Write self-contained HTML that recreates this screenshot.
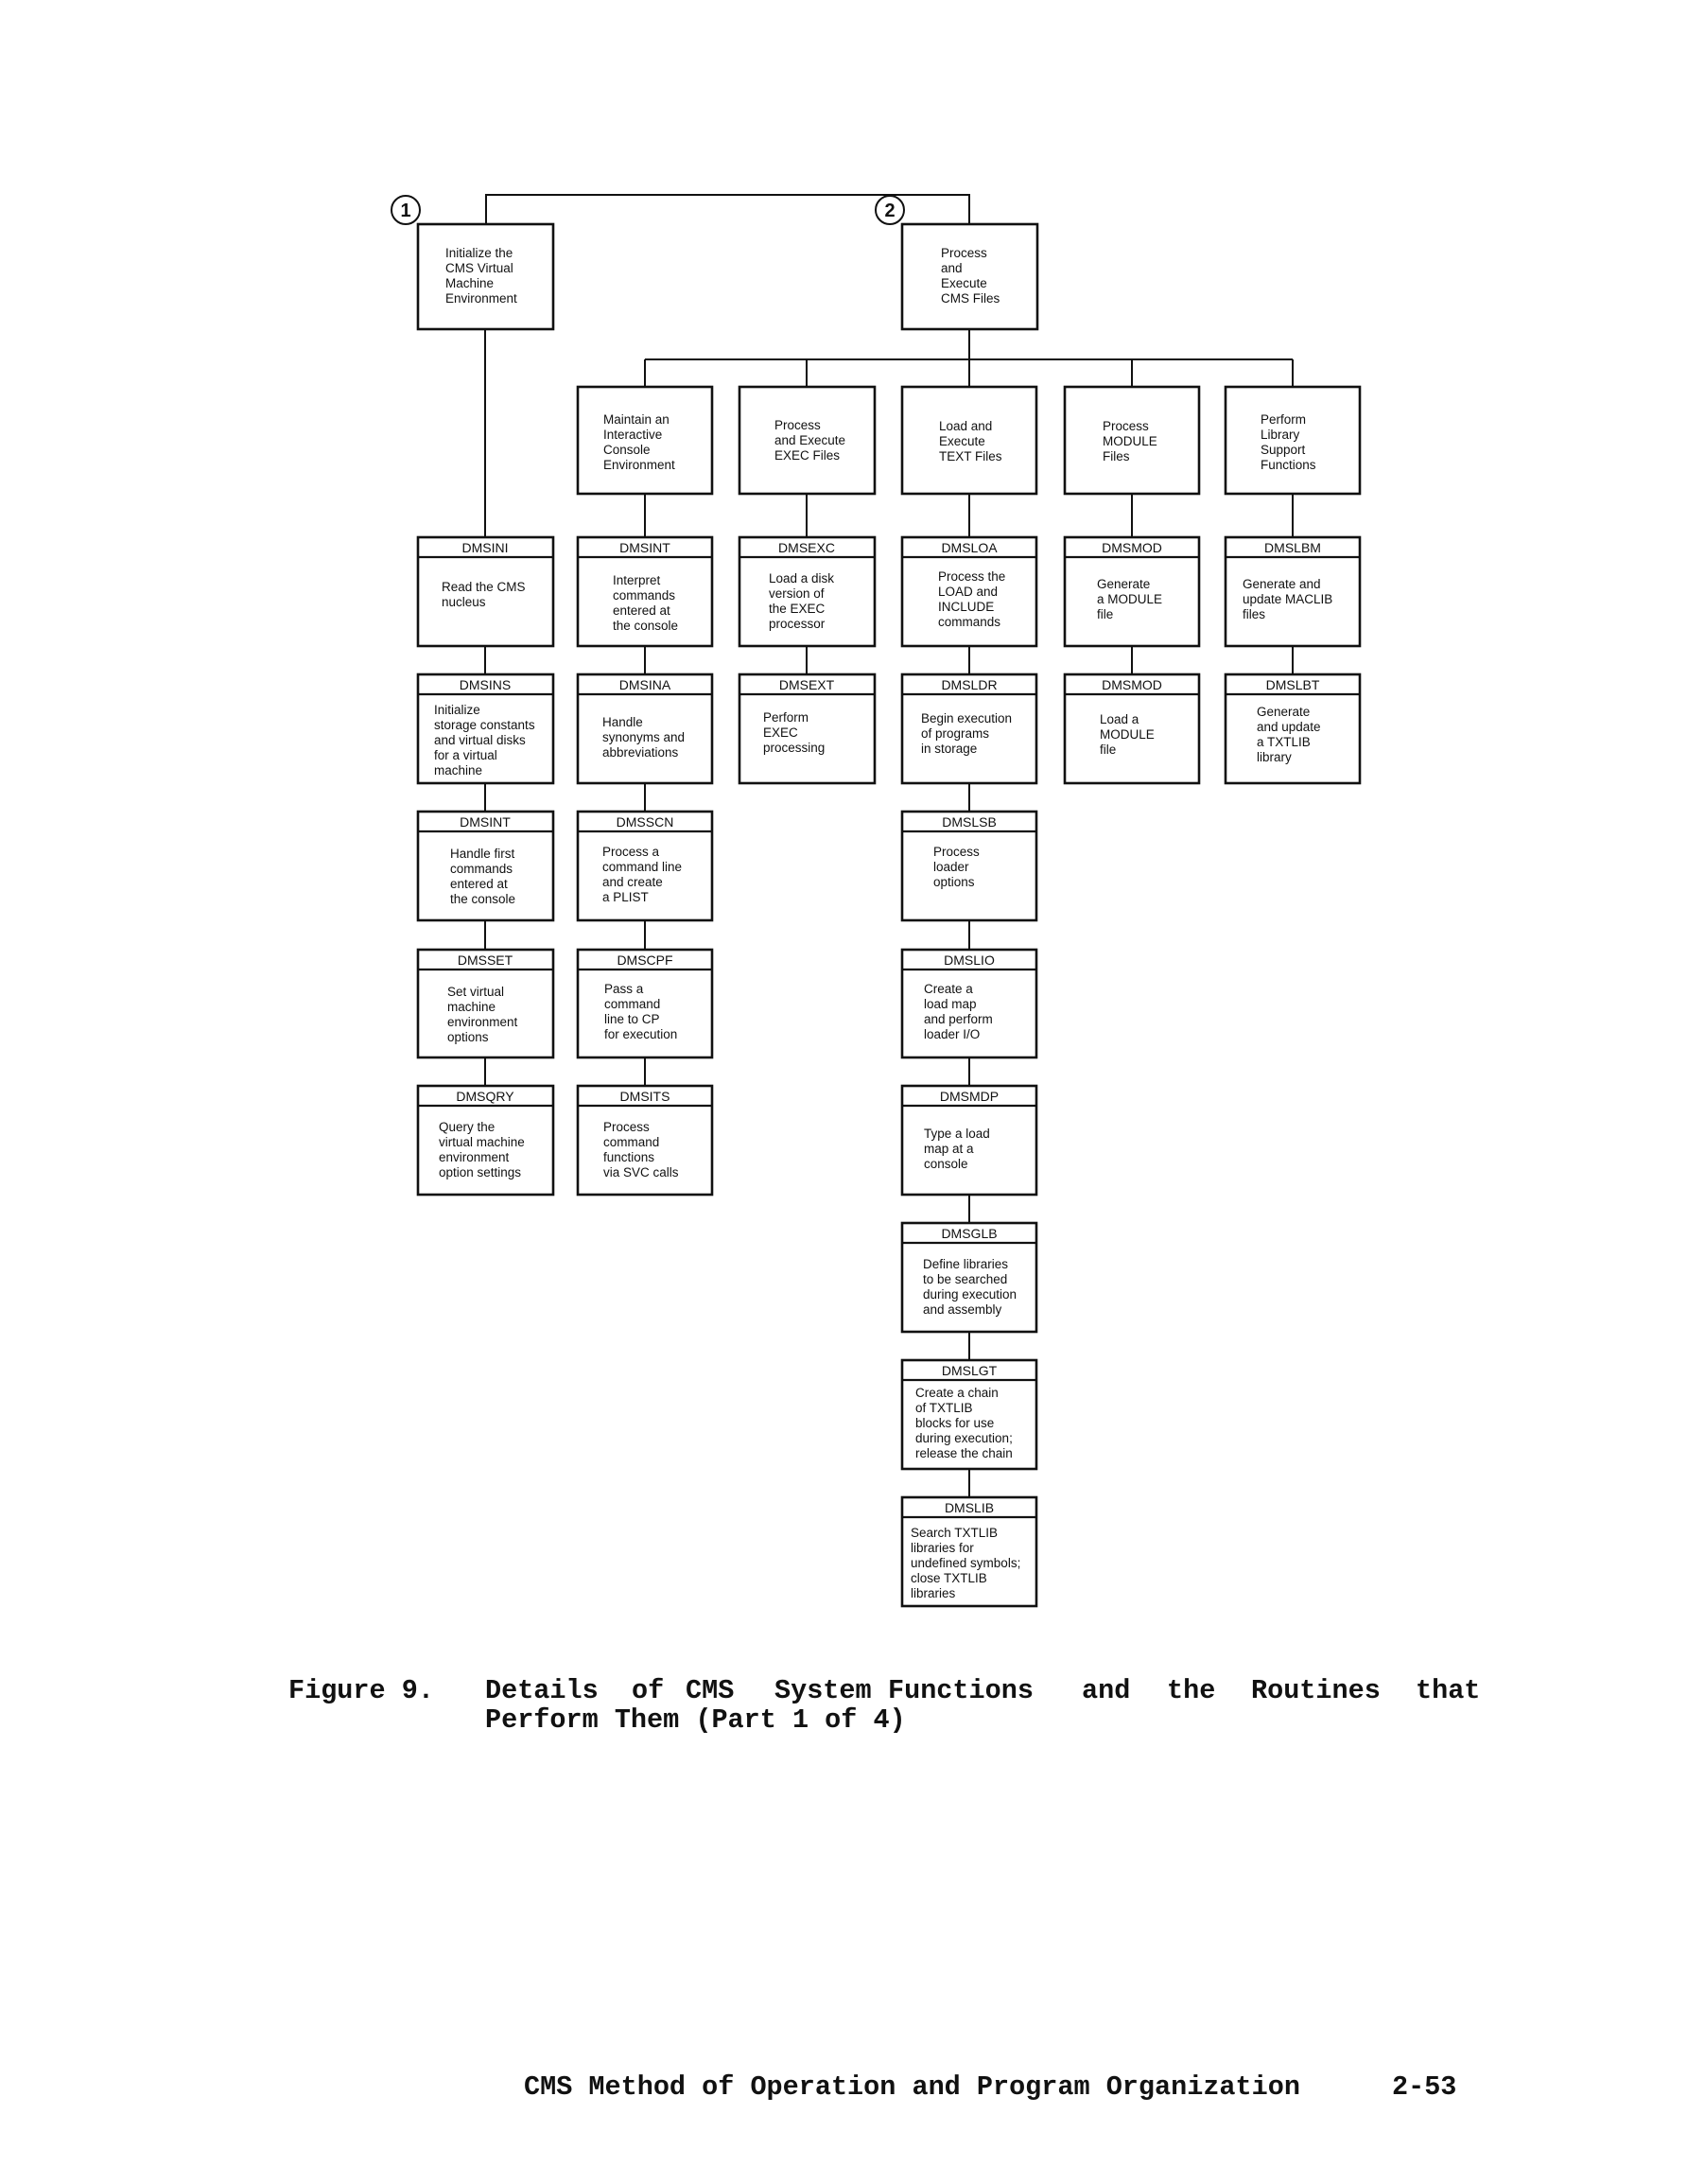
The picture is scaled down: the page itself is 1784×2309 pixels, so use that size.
<!DOCTYPE html>
<html><head><meta charset="utf-8"><style>
html,body{margin:0;padding:0;background:#fff;}
svg{display:block;}
.t{font-family:"Liberation Sans",sans-serif;font-size:13.5px;fill:#111;}
.h{font-family:"Liberation Sans",sans-serif;font-size:14px;fill:#111;text-anchor:middle;}
.m{font-family:"Liberation Mono",monospace;font-weight:bold;font-size:28.5px;fill:#111;}
</style></head><body>
<svg width="1784" height="2309" viewBox="0 0 1784 2309" xmlns="http://www.w3.org/2000/svg">
<g stroke="#111" fill="none" stroke-width="2">
<polyline points="514,237 514,206 1025,206 1025,237"/>
<line x1="513" y1="348" x2="513" y2="568"/>
<line x1="1025" y1="348" x2="1025" y2="409"/>
<line x1="682" y1="380" x2="1367" y2="380"/>
<line x1="682" y1="380" x2="682" y2="409"/>
<line x1="853" y1="380" x2="853" y2="409"/>
<line x1="1197" y1="380" x2="1197" y2="409"/>
<line x1="1367" y1="380" x2="1367" y2="409"/>
<line x1="682" y1="522" x2="682" y2="568"/>
<line x1="853" y1="522" x2="853" y2="568"/>
<line x1="1025" y1="522" x2="1025" y2="568"/>
<line x1="1197" y1="522" x2="1197" y2="568"/>
<line x1="1367" y1="522" x2="1367" y2="568"/>
<line x1="513" y1="683" x2="513" y2="1148"/>
<line x1="682" y1="683" x2="682" y2="1148"/>
<line x1="853" y1="683" x2="853" y2="713"/>
<line x1="1025" y1="683" x2="1025" y2="1583"/>
<line x1="1197" y1="683" x2="1197" y2="713"/>
<line x1="1367" y1="683" x2="1367" y2="713"/>
<circle cx="429" cy="222" r="15"/>
<circle cx="941" cy="222" r="15"/>
</g>
<g fill="#fff" stroke="#111" stroke-width="2.6">
<rect x="442" y="237" width="143" height="111"/>
<rect x="954" y="237" width="143" height="111"/>
<rect x="611" y="409" width="142" height="113"/>
<rect x="782" y="409" width="143" height="113"/>
<rect x="954" y="409" width="142" height="113"/>
<rect x="1126" y="409" width="142" height="113"/>
<rect x="1296" y="409" width="142" height="113"/>
</g>
<text x="429" y="229" font-family="Liberation Sans" font-weight="bold" font-size="20" text-anchor="middle" fill="#111">1</text>
<text x="941" y="229" font-family="Liberation Sans" font-weight="bold" font-size="20" text-anchor="middle" fill="#111">2</text>
<g class="t">
<text x="471" y="272">Initialize the</text><text x="471" y="288">CMS Virtual</text><text x="471" y="304">Machine</text><text x="471" y="320">Environment</text>
<text x="995" y="272">Process</text><text x="995" y="288">and</text><text x="995" y="304">Execute</text><text x="995" y="320">CMS Files</text>
<text x="638" y="448">Maintain an</text><text x="638" y="464">Interactive</text><text x="638" y="480">Console</text><text x="638" y="496">Environment</text>
<text x="819" y="454">Process</text><text x="819" y="470">and Execute</text><text x="819" y="486">EXEC Files</text>
<text x="993" y="455">Load and</text><text x="993" y="471">Execute</text><text x="993" y="487">TEXT Files</text>
<text x="1166" y="455">Process</text><text x="1166" y="471">MODULE</text><text x="1166" y="487">Files</text>
<text x="1333" y="448">Perform</text><text x="1333" y="464">Library</text><text x="1333" y="480">Support</text><text x="1333" y="496">Functions</text>
</g>
<text class="m" x="305" y="1795">Figure 9.</text>
<text class="m" x="513" y="1795">Details</text>
<text class="m" x="668" y="1795">of</text>
<text class="m" x="725" y="1795">CMS</text>
<text class="m" x="819" y="1795">System</text>
<text class="m" x="939" y="1795">Functions</text>
<text class="m" x="1144" y="1795">and</text>
<text class="m" x="1234" y="1795">the</text>
<text class="m" x="1323" y="1795">Routines</text>
<text class="m" x="1497" y="1795">that</text>
<text class="m" x="513" y="1826">Perform Them (Part 1 of 4)</text>
<text class="m" x="554" y="2214">CMS Method of Operation and Program Organization</text>
<text class="m" x="1472" y="2214">2-53</text>
<g>
<g stroke="#111" stroke-width="2.6" fill="#fff">
<rect x="442" y="568" width="143" height="115"/><rect x="611" y="568" width="142" height="115"/><rect x="782" y="568" width="143" height="115"/><rect x="954" y="568" width="142" height="115"/><rect x="1126" y="568" width="142" height="115"/><rect x="1296" y="568" width="142" height="115"/>
<rect x="442" y="713" width="143" height="115"/><rect x="611" y="713" width="142" height="115"/><rect x="782" y="713" width="143" height="115"/><rect x="954" y="713" width="142" height="115"/><rect x="1126" y="713" width="142" height="115"/><rect x="1296" y="713" width="142" height="115"/>
<rect x="442" y="858" width="143" height="115"/><rect x="611" y="858" width="142" height="115"/><rect x="954" y="858" width="142" height="115"/>
<rect x="442" y="1004" width="143" height="114"/><rect x="611" y="1004" width="142" height="114"/><rect x="954" y="1004" width="142" height="114"/>
<rect x="442" y="1148" width="143" height="115"/><rect x="611" y="1148" width="142" height="115"/><rect x="954" y="1148" width="142" height="115"/>
<rect x="954" y="1293" width="142" height="115"/>
<rect x="954" y="1438" width="142" height="115"/>
<rect x="954" y="1583" width="142" height="115"/>
</g>
<g stroke="#111" stroke-width="2.2">
<line x1="442" y1="589" x2="585" y2="589"/><line x1="611" y1="589" x2="753" y2="589"/><line x1="782" y1="589" x2="925" y2="589"/><line x1="954" y1="589" x2="1096" y2="589"/><line x1="1126" y1="589" x2="1268" y2="589"/><line x1="1296" y1="589" x2="1438" y2="589"/>
<line x1="442" y1="734" x2="585" y2="734"/><line x1="611" y1="734" x2="753" y2="734"/><line x1="782" y1="734" x2="925" y2="734"/><line x1="954" y1="734" x2="1096" y2="734"/><line x1="1126" y1="734" x2="1268" y2="734"/><line x1="1296" y1="734" x2="1438" y2="734"/>
<line x1="442" y1="879" x2="585" y2="879"/><line x1="611" y1="879" x2="753" y2="879"/><line x1="954" y1="879" x2="1096" y2="879"/>
<line x1="442" y1="1025" x2="585" y2="1025"/><line x1="611" y1="1025" x2="753" y2="1025"/><line x1="954" y1="1025" x2="1096" y2="1025"/>
<line x1="442" y1="1169" x2="585" y2="1169"/><line x1="611" y1="1169" x2="753" y2="1169"/><line x1="954" y1="1169" x2="1096" y2="1169"/>
<line x1="954" y1="1314" x2="1096" y2="1314"/>
<line x1="954" y1="1459" x2="1096" y2="1459"/>
<line x1="954" y1="1604" x2="1096" y2="1604"/>
</g>
<g class="h">
<text x="513" y="584">DMSINI</text><text x="682" y="584">DMSINT</text><text x="853" y="584">DMSEXC</text><text x="1025" y="584">DMSLOA</text><text x="1197" y="584">DMSMOD</text><text x="1367" y="584">DMSLBM</text>
<text x="513" y="729">DMSINS</text><text x="682" y="729">DMSINA</text><text x="853" y="729">DMSEXT</text><text x="1025" y="729">DMSLDR</text><text x="1197" y="729">DMSMOD</text><text x="1367" y="729">DMSLBT</text>
<text x="513" y="874">DMSINT</text><text x="682" y="874">DMSSCN</text><text x="1025" y="874">DMSLSB</text>
<text x="513" y="1020">DMSSET</text><text x="682" y="1020">DMSCPF</text><text x="1025" y="1020">DMSLIO</text>
<text x="513" y="1164">DMSQRY</text><text x="682" y="1164">DMSITS</text><text x="1025" y="1164">DMSMDP</text>
<text x="1025" y="1309">DMSGLB</text>
<text x="1025" y="1454">DMSLGT</text>
<text x="1025" y="1599">DMSLIB</text>
</g>
<g class="t">
<text x="467" y="625">Read the CMS</text><text x="467" y="641">nucleus</text>
<text x="648" y="618">Interpret</text><text x="648" y="634">commands</text><text x="648" y="650">entered at</text><text x="648" y="666">the console</text>
<text x="813" y="616">Load a disk</text><text x="813" y="632">version of</text><text x="813" y="648">the EXEC</text><text x="813" y="664">processor</text>
<text x="992" y="614">Process the</text><text x="992" y="630">LOAD and</text><text x="992" y="646">INCLUDE</text><text x="992" y="662">commands</text>
<text x="1160" y="622">Generate</text><text x="1160" y="638">a MODULE</text><text x="1160" y="654">file</text>
<text x="1314" y="622">Generate and</text><text x="1314" y="638">update MACLIB</text><text x="1314" y="654">files</text>
<text x="459" y="755">Initialize</text><text x="459" y="771">storage constants</text><text x="459" y="787">and virtual disks</text><text x="459" y="803">for a virtual</text><text x="459" y="819">machine</text>
<text x="637" y="768">Handle</text><text x="637" y="784">synonyms and</text><text x="637" y="800">abbreviations</text>
<text x="807" y="763">Perform</text><text x="807" y="779">EXEC</text><text x="807" y="795">processing</text>
<text x="974" y="764">Begin execution</text><text x="974" y="780">of programs</text><text x="974" y="796">in storage</text>
<text x="1163" y="765">Load a</text><text x="1163" y="781">MODULE</text><text x="1163" y="797">file</text>
<text x="1329" y="757">Generate</text><text x="1329" y="773">and update</text><text x="1329" y="789">a TXTLIB</text><text x="1329" y="805">library</text>
<text x="476" y="907">Handle first</text><text x="476" y="923">commands</text><text x="476" y="939">entered at</text><text x="476" y="955">the console</text>
<text x="637" y="905">Process a</text><text x="637" y="921">command line</text><text x="637" y="937">and create</text><text x="637" y="953">a PLIST</text>
<text x="987" y="905">Process</text><text x="987" y="921">loader</text><text x="987" y="937">options</text>
<text x="473" y="1053">Set virtual</text><text x="473" y="1069">machine</text><text x="473" y="1085">environment</text><text x="473" y="1101">options</text>
<text x="639" y="1050">Pass a</text><text x="639" y="1066">command</text><text x="639" y="1082">line to CP</text><text x="639" y="1098">for execution</text>
<text x="977" y="1050">Create a</text><text x="977" y="1066">load map</text><text x="977" y="1082">and perform</text><text x="977" y="1098">loader I/O</text>
<text x="464" y="1196">Query the</text><text x="464" y="1212">virtual machine</text><text x="464" y="1228">environment</text><text x="464" y="1244">option settings</text>
<text x="638" y="1196">Process</text><text x="638" y="1212">command</text><text x="638" y="1228">functions</text><text x="638" y="1244">via SVC calls</text>
<text x="977" y="1203">Type a load</text><text x="977" y="1219">map at a</text><text x="977" y="1235">console</text>
<text x="976" y="1341">Define libraries</text><text x="976" y="1357">to be searched</text><text x="976" y="1373">during execution</text><text x="976" y="1389">and assembly</text>
<text x="968" y="1477">Create a chain</text><text x="968" y="1493">of TXTLIB</text><text x="968" y="1509">blocks for use</text><text x="968" y="1525">during execution;</text><text x="968" y="1541">release the chain</text>
<text x="963" y="1625">Search TXTLIB</text><text x="963" y="1641">libraries for</text><text x="963" y="1657">undefined symbols;</text><text x="963" y="1673">close TXTLIB</text><text x="963" y="1689">libraries</text>
</g>
</g>
</svg>
</body></html>
